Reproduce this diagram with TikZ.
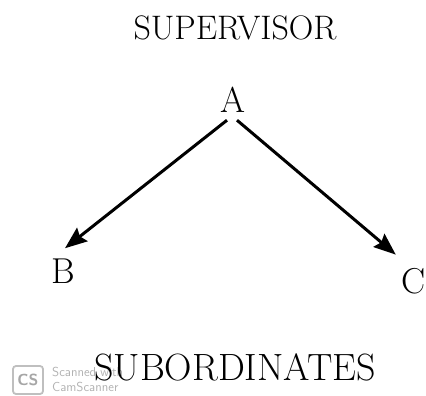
\documentclass[tikz,border=0pt]{standalone}
\usepackage{tikz}
\usetikzlibrary{arrows.meta, positioning}

\begin{document}
\begin{tikzpicture}[
    x=1pt, y=-1pt,
    title/.style={
        anchor=base, inner sep=0pt,
        font=\fontsize{34}{40}\selectfont
    },
    person/.style={
        anchor=base, inner sep=0pt,
        font=\fontsize{36}{42}\selectfont
    },
    arrow/.style={
        -{Stealth[length=22pt, width=17pt, inset=3pt]}, line width=3pt
    },
    wmtext/.style={
        text=black!30, font=\sffamily\fontsize{13}{14}\selectfont,
        anchor=base west, inner sep=0pt
    }
]
\useasboundingbox (0,0) rectangle (426,396);

% Scanner watermark
\node[draw=black!25, line width=1.8pt, rounded corners=3pt,
      minimum width=30pt, minimum height=28pt, inner sep=0pt,
      text=black!35, font=\sffamily\bfseries\fontsize{16}{17}\selectfont]
      (logo) at (28,380) {CS};
\node[wmtext] (scanned) at (52,376) {Scanned with};
\node[wmtext] (camscanner) at (52,391) {CamScanner};

% Titles
\node[title] (sup) at (235,40) {SUPERVISOR};
\node[title, font=\fontsize{38}{44}\selectfont] (sub) at (235,380) {SUBORDINATES};

% People
\node[person] (a) at (233,113) {A};
\node[person] (b) at (63,283) {B};
\node[person] (c) at (414,293) {C};

% Arrows
\draw[arrow] ([xshift=-6pt, yshift=-7pt]a.south) -- ([xshift=2pt, yshift=10pt]b.north);
\draw[arrow] ([xshift=4pt, yshift=-7pt]a.south) -- ([xshift=-6pt, yshift=13pt]c.north west);

\end{tikzpicture}
\end{document}
